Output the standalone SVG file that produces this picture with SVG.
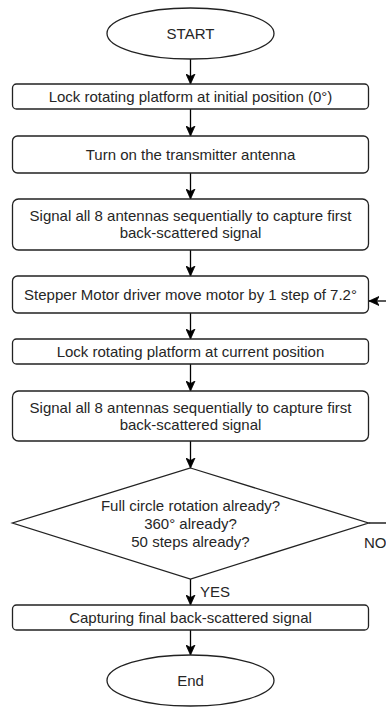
<svg xmlns="http://www.w3.org/2000/svg" width="386" height="707" viewBox="0 0 386 707">
  <style>
    .shape { fill: #ffffff; stroke: #222222; stroke-width: 1.3; }
    .edge { fill: none; stroke: #000000; stroke-width: 1.3; }
    text { font-family: "Liberation Sans", Arial, sans-serif; font-size: 15px; fill: #262626; }
    .c { text-anchor: middle; }
  </style>
  <defs>
    <marker id="arrow" viewBox="0 0 10 10" refX="10" refY="5" markerWidth="10" markerHeight="10" markerUnits="userSpaceOnUse" orient="auto">
      <path d="M0,0.5 L10,5 L0,9.5 L2.5,5 Z" fill="#000000" stroke="#000000" stroke-width="0.8"/>
    </marker>
  </defs>
  <rect width="386" height="707" fill="#ffffff"/>

  <!-- connectors -->
  <g id="connectors">
    <line class="edge" x1="190.5" y1="59" x2="190.5" y2="84" marker-end="url(#arrow)"/>
    <line class="edge" x1="190.5" y1="109" x2="190.5" y2="136" marker-end="url(#arrow)"/>
    <line class="edge" x1="190.5" y1="173" x2="190.5" y2="199" marker-end="url(#arrow)"/>
    <line class="edge" x1="190.5" y1="250" x2="190.5" y2="276" marker-end="url(#arrow)"/>
    <line class="edge" x1="190.5" y1="313" x2="190.5" y2="339" marker-end="url(#arrow)"/>
    <line class="edge" x1="190.5" y1="364" x2="190.5" y2="391" marker-end="url(#arrow)"/>
    <line class="edge" x1="190.5" y1="441" x2="190.5" y2="468" marker-end="url(#arrow)"/>
    <line class="edge" x1="190.5" y1="579" x2="190.5" y2="605" marker-end="url(#arrow)"/>
    <line class="edge" x1="190.5" y1="630" x2="190.5" y2="655" marker-end="url(#arrow)"/>
    <!-- NO branch loops back to the stepper step -->
    <line class="edge" x1="368.5" y1="523" x2="387" y2="523"/>
    <line class="edge" x1="387" y1="301" x2="369" y2="301" marker-end="url(#arrow)"/>
    <text x="200" y="597">YES</text>
    <text x="364" y="548">NO</text>
  </g>

  <g id="start">
    <ellipse class="shape" cx="190.5" cy="33.5" rx="83.5" ry="25.5"/>
    <text class="c" x="190.5" y="39">START</text>
  </g>

  <g id="lock-initial">
    <rect class="shape" x="12.5" y="84" width="356" height="25" rx="4"/>
    <text class="c" x="190.5" y="102">Lock rotating platform at initial position (0°)</text>
  </g>

  <g id="transmitter-on">
    <rect class="shape" x="12.5" y="136" width="356" height="37" rx="5"/>
    <text class="c" x="190.5" y="160">Turn on the transmitter antenna</text>
  </g>

  <g id="signal-first">
    <rect class="shape" x="12.5" y="199" width="356" height="51" rx="6"/>
    <text class="c" x="190.5" y="221">Signal all 8 antennas sequentially to capture first</text>
    <text class="c" x="190.5" y="238">back-scattered signal</text>
  </g>

  <g id="stepper-move">
    <rect class="shape" x="12.5" y="276" width="356" height="37" rx="5"/>
    <text class="c" x="190.5" y="300">Stepper Motor driver move motor by 1 step of 7.2°</text>
  </g>

  <g id="lock-current">
    <rect class="shape" x="12.5" y="339" width="356" height="25" rx="4"/>
    <text class="c" x="190.5" y="357">Lock rotating platform at current position</text>
  </g>

  <g id="signal-repeat">
    <rect class="shape" x="12.5" y="391" width="356" height="50" rx="6"/>
    <text class="c" x="190.5" y="412.5">Signal all 8 antennas sequentially to capture first</text>
    <text class="c" x="190.5" y="429.5">back-scattered signal</text>
  </g>

  <g id="rotation-check">
    <polygon class="shape" points="190.5,468 368.5,523 190.5,579 12.5,523"/>
    <text class="c" x="190.5" y="510.5">Full circle rotation already?</text>
    <text class="c" x="190.5" y="528.5">360° already?</text>
    <text class="c" x="190.5" y="546.5">50 steps already?</text>
  </g>

  <g id="capture-final">
    <rect class="shape" x="12.5" y="605" width="356" height="25" rx="4"/>
    <text class="c" x="190.5" y="623">Capturing final back-scattered signal</text>
  </g>

  <g id="end">
    <ellipse class="shape" cx="190.5" cy="680.5" rx="83.5" ry="25.5"/>
    <text class="c" x="190.5" y="686">End</text>
  </g>
</svg>
